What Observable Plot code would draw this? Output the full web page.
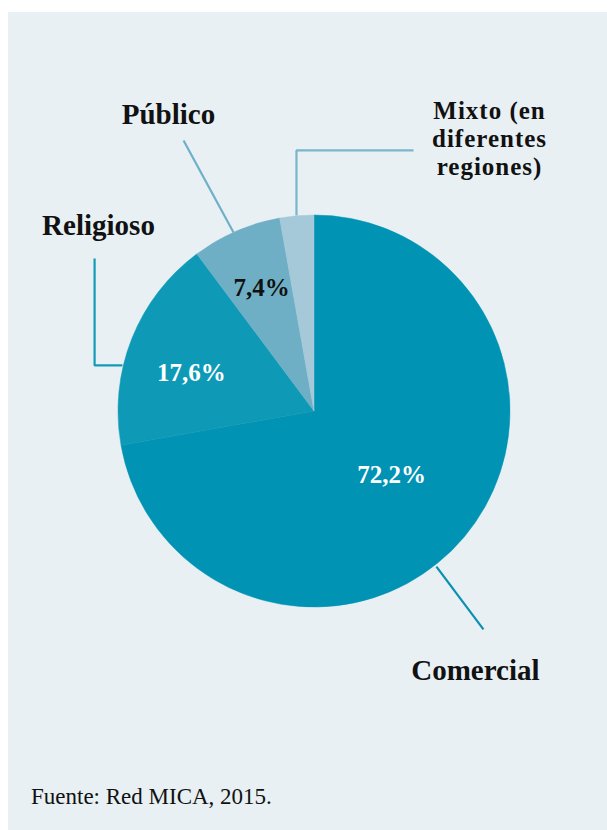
<!DOCTYPE html>
<html>
<head>
<meta charset="utf-8">
<script src="https://cdn.jsdelivr.net/npm/d3@7"></script>
<script src="https://cdn.jsdelivr.net/npm/@observablehq/plot@0.6"></script>
<style>
  html, body { margin: 0; padding: 0; background: #ffffff; }
  #panel { position: absolute; left: 8px; top: 12px; width: 599px; height: 818px; background: #e8f0f4; }
  #chart { position: absolute; left: 0; top: 0; }
  #caption { position: absolute; left: 23px; top: 773px; font-family: "Liberation Serif", serif; font-size: 23px; line-height: 23px; color: #111; }
  .mixto text { letter-spacing: 1px; }
</style>
</head>
<body>
<div id="panel">
  <div id="chart"></div>
  <div id="caption">Fuente: Red MICA, 2015.</div>
</div>
<script>
// ---- data ----
const categories = ["Comercial", "Religioso", "Público", "Mixto (en\ndiferentes\nregiones)"];
const shares = [72.2, 17.6, 7.4, 2.8];
const sliceColors = ["#0093b4", "#0e9ab6", "#6eafc6", "#a5c9d8"];
const lineColors = ["#0a90b0", "#129bb7", "#6eb0c8", "#7ab5cb"];
const showPercent = [true, true, true, false];
const percentColors = ["#ffffff", "#ffffff", "#111111", "#111111"];

// ---- layout (pie radius = 1 unit) ----
const labelPos = [[0.821, -1.372], [-1.102, 0.903], [-0.745, 1.469], [0.893, 1.209]];
const percentPos = [[0.393, -0.367], [-0.628, 0.158], [-0.270, 0.587], [0, 0]];
const leaders = [
  [[0.622, -0.791], [0.862, -1.112]],
  [[-0.980, 0.235], [-1.122, 0.235], [-1.122, 0.781]],
  [[-0.413, 0.913], [-0.668, 1.383]],
  [[-0.092, 1.0], [-0.092, 1.332], [0.505, 1.332]]
];

const W = 599, H = 760, cxPx = 306, cyPx = 399, rPx = 196;

const slices = categories.map((c, i) => ({category: c, share: shares[i], color: sliceColors[i]}));
const fmt = v => v.toFixed(1).replace(".", ",") + "%";
const labels = categories.map((c, i) => ({text: c, x: labelPos[i][0], y: labelPos[i][1], multi: c.includes("\n")}));
const percents = categories.map((c, i) => ({text: fmt(shares[i]), x: percentPos[i][0], y: percentPos[i][1], color: percentColors[i], show: showPercent[i]})).filter(d => d.show);
const leaderRows = leaders.flatMap((pts, i) => pts.map(p => ({k: i, x: p[0], y: p[1], color: lineColors[i]})));

function pieMark(index, scales) {
  const cx = scales.x(0), cy = scales.y(0), r = scales.x(1) - scales.x(0);
  const arcs = d3.pie().sort(null).value(d => d.share)(slices);
  const arc = d3.arc().innerRadius(0).outerRadius(r);
  const g = d3.create("svg:g").attr("transform", `translate(${cx},${cy})`);
  g.selectAll("path").data(arcs).join("path")
    .attr("d", arc)
    .attr("fill", d => d.data.color)
    .attr("stroke", d => d.data.color)
    .attr("stroke-width", 0.5);
  return g.node();
}

const chart = Plot.plot({
  width: W,
  height: H,
  margin: 0,
  style: {background: "transparent", fontFamily: "Liberation Serif, serif"},
  x: {domain: [-cxPx / rPx, (W - cxPx) / rPx], axis: null},
  y: {domain: [-(H - cyPx) / rPx, cyPx / rPx], axis: null},
  marks: [
    Plot.line(leaderRows, {x: "x", y: "y", z: "k", stroke: d => d.color, strokeWidth: 2.2, strokeLinejoin: "miter", strokeLinecap: "butt"}),
    pieMark,
    Plot.text(percents, {x: "x", y: "y", text: "text", fill: d => d.color, fontSize: 25, fontWeight: "bold", lineAnchor: "bottom", textAnchor: "middle"}),
    Plot.text(labels.filter(d => !d.multi), {x: "x", y: "y", text: "text", fill: "#111111", fontSize: 29, fontWeight: "bold", lineAnchor: "bottom", textAnchor: "middle"}),
    Plot.text(labels.filter(d => d.multi), {x: "x", y: "y", text: "text", fill: "#111111", fontSize: 25, fontWeight: "bold", lineAnchor: "bottom", textAnchor: "middle", lineHeight: 1.12, className: "mixto"})
  ]
});
document.getElementById("chart").appendChild(chart);
</script>
</body>
</html>
